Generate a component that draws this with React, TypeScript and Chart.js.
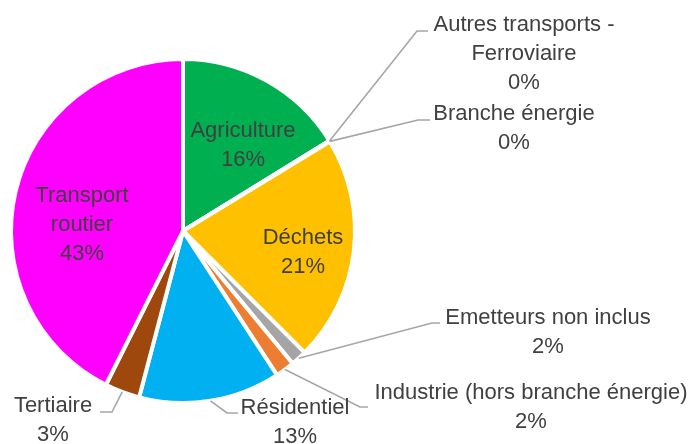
import React, { useEffect, useRef } from "react";
import { Chart, registerables } from "chart.js";

Chart.register(...registerables);

// Data
const CATEGORY_LINES: string[][] = [
  ["Agriculture"],
  ["Autres transports -", "Ferroviaire"],
  ["Branche énergie"],
  ["Déchets"],
  ["Emetteurs non inclus"],
  ["Industrie (hors branche énergie)"],
  ["Résidentiel"],
  ["Tertiaire"],
  ["Transport", "routier"],
];
const SHARE_VALUES: number[] = [16.2, 0.05, 0.05, 21.2, 1.5, 1.8, 13.3, 3.3, 42.6];
const SLICE_COLORS: string[] = [
  "#00B050",
  "#5B9BD5",
  "#264478",
  "#FFC000",
  "#A5A5A5",
  "#ED7D31",
  "#00B0F0",
  "#9E480E",
  "#FF00FF",
];

// Label layout (relative to pie centre): block centre, and optional leader end / elbow
type LabelLayout = { dx: number; dy: number; leader?: { ex: number; ey: number; elbow: number } };
const LABEL_LAYOUT: LabelLayout[] = [
  { dx: 60, dy: -85.5 },
  { dx: 341, dy: -177, leader: { ex: 245, ey: -200, elbow: -11 } },
  { dx: 331, dy: -103, leader: { ex: 247, ey: -111, elbow: -12 } },
  { dx: 120, dy: 21.5 },
  { dx: 365, dy: 101, leader: { ex: 257, ey: 92, elbow: -8 } },
  { dx: 348, dy: 176, leader: { ex: 185, ey: 176, elbow: -8 } },
  { dx: 112, dy: 191, leader: { ex: 55, ey: 182, elbow: -11 } },
  { dx: -130, dy: 189, leader: { ex: -83, ey: 181, elbow: 12 } },
  { dx: -101, dy: -6 },
];

const FONT = "22px 'Liberation Sans', Arial, sans-serif";
const TEXT_COLOR = "#404040";
const LEADER_COLOR = "#A6A6A6";
const LINE_HEIGHT = 29;

const labelPlugin = {
  id: "pieLabels",
  afterDraw(chart: any) {
    const ctx: CanvasRenderingContext2D = chart.ctx;
    const meta = chart.getDatasetMeta(0);
    const values: number[] = chart.data.datasets[0].data;
    const total = values.reduce((a, b) => a + b, 0);
    ctx.save();
    meta.data.forEach((arc: any, i: number) => {
      const p = arc.getProps(["x", "y", "startAngle", "endAngle", "outerRadius"], true);
      const lay = LABEL_LAYOUT[i];
      const cx = p.x;
      const cy = p.y;
      if (lay.leader) {
        const mid = (p.startAngle + p.endAngle) / 2;
        const r = p.outerRadius;
        const sx = cx + Math.cos(mid) * r;
        const sy = cy + Math.sin(mid) * r;
        const ex = cx + lay.leader.ex;
        const ey = cy + lay.leader.ey;
        ctx.beginPath();
        ctx.strokeStyle = LEADER_COLOR;
        ctx.lineWidth = 1.6;
        ctx.moveTo(sx, sy);
        ctx.lineTo(ex + lay.leader.elbow, ey);
        ctx.lineTo(ex, ey);
        ctx.stroke();
      }
      const lines = [...CATEGORY_LINES[i], Math.round((values[i] / total) * 100) + "%"];
      ctx.font = FONT;
      ctx.fillStyle = TEXT_COLOR;
      ctx.textAlign = "center";
      ctx.textBaseline = "middle";
      const bx = cx + lay.dx;
      const by = cy + lay.dy - ((lines.length - 1) * LINE_HEIGHT) / 2;
      lines.forEach((t, k) => ctx.fillText(t, bx, by + k * LINE_HEIGHT));
    });
    ctx.restore();
  },
};

export default function App() {
  const ref = useRef<HTMLCanvasElement | null>(null);
  useEffect(() => {
    if (!ref.current) return;
    const chart = new Chart(ref.current, {
      type: "pie",
      data: {
        labels: CATEGORY_LINES.map((l) => l.join(" ")),
        datasets: [
          {
            data: SHARE_VALUES,
            backgroundColor: SLICE_COLORS,
            borderColor: "#FFFFFF",
            borderWidth: 4,
          },
        ],
      },
      options: {
        responsive: false,
        animation: false,
        layout: { padding: { left: 9, top: 57, right: 334, bottom: 39 } },
        plugins: {
          legend: { display: false },
          tooltip: { enabled: false },
        },
      },
      plugins: [labelPlugin],
    });
    return () => chart.destroy();
  }, []);
  return (
    <div style={{ position: "absolute", left: 0, top: 0, width: 691, height: 444, background: "#fff" }}>
      <canvas ref={ref} width={691} height={444} />
    </div>
  );
}
